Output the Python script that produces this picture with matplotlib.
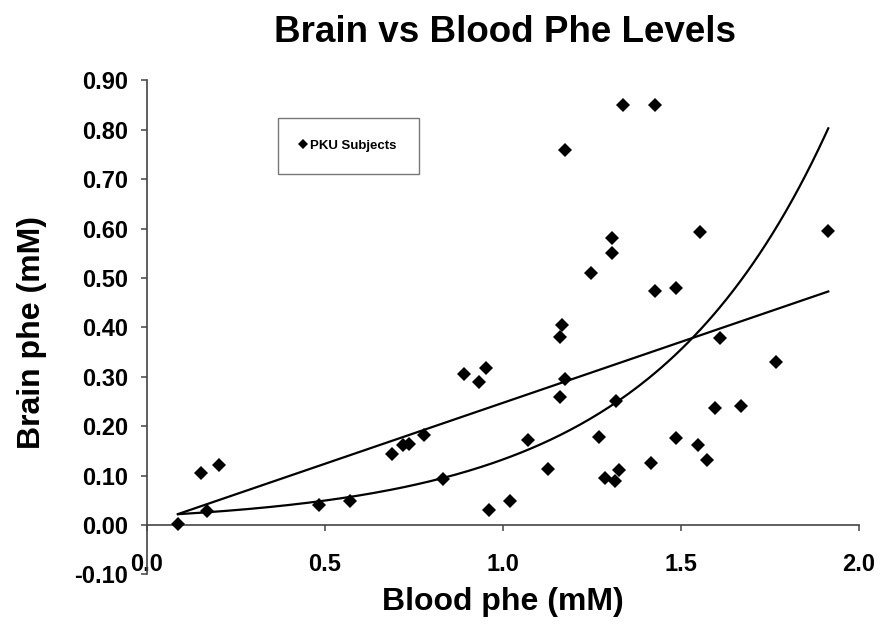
"""
Brain vs blood phe scatter with linear and exponential trendlines
"""

import numpy as np
import matplotlib
matplotlib.use("Agg")
import matplotlib.pyplot as plt
from matplotlib.ticker import FormatStrFormatter


# ---------- Data ----------
blood_phe = [0.087, 0.151, 0.201, 0.169, 0.483, 0.569,
             1.166, 1.159, 0.892, 0.953, 0.932, 1.173, 1.159,
             0.688, 0.719, 0.735, 0.778, 1.070, 1.126, 0.831, 0.961, 1.019,
             1.610, 1.768, 1.318, 1.597, 1.669, 1.270, 1.487, 1.548, 1.573,
             1.415, 1.325, 1.287, 1.314,
             1.337, 1.428, 1.555, 1.306, 1.306, 1.248, 1.428, 1.487,
             1.173, 1.914]
brain_phe = [0.003, 0.105, 0.122, 0.029, 0.040, 0.049,
             0.404, 0.381, 0.306, 0.318, 0.290, 0.296, 0.260,
             0.143, 0.161, 0.165, 0.182, 0.173, 0.113, 0.093, 0.030, 0.048,
             0.378, 0.329, 0.252, 0.236, 0.241, 0.179, 0.177, 0.161, 0.132,
             0.126, 0.111, 0.095, 0.089,
             0.850, 0.850, 0.593, 0.580, 0.550, 0.510, 0.474, 0.479,
             0.759, 0.595]

# exponential trendline y = a * exp(b * x), as drawn on the chart
exp_trend_a = 0.0185
exp_trend_b = 1.97

x_ticks = [0.0, 0.5, 1.0, 1.5, 2.0]
y_ticks = [-0.10, 0.00, 0.10, 0.20, 0.30, 0.40, 0.50, 0.60, 0.70, 0.80, 0.90]

FONT = "Liberation Sans"
plt.rcParams["font.family"] = [FONT, "DejaVu Sans"]

x = np.asarray(blood_phe)
y = np.asarray(brain_phe)

# linear trendline from a least-squares fit of the points
lin = np.polyfit(x, y, 1)
xs = np.linspace(x.min(), x.max(), 200)

fig = plt.figure(figsize=(8.8, 6.28), dpi=100)
ax = fig.add_axes([0.167, 0.0853, 0.809, 0.7867])

ax.plot(xs, np.polyval(lin, xs), color="black", lw=1.6, zorder=2)
ax.plot(xs, exp_trend_a * np.exp(exp_trend_b * xs), color="black", lw=1.6, zorder=2)
ax.plot(x, y, linestyle="none", marker="D", markersize=6.8, color="black",
        markeredgewidth=0, label="PKU Subjects", zorder=3)

ax.set_xlim(0, 2.0)
ax.set_ylim(-0.10, 0.90)
ax.set_xticks(x_ticks)
ax.set_yticks(y_ticks)
ax.xaxis.set_major_formatter(FormatStrFormatter("%.1f"))
ax.yaxis.set_major_formatter(FormatStrFormatter("%.2f"))

for side in ("top", "right"):
    ax.spines[side].set_visible(False)
ax.spines["bottom"].set_position(("data", 0))
for side in ("left", "bottom"):
    ax.spines[side].set_color("#444444")
    ax.spines[side].set_linewidth(1.2)

ax.tick_params(axis="both", direction="out", length=4.5, width=1.1,
               color="#444444", labelsize=17)
ax.tick_params(axis="x", pad=16)
ax.tick_params(axis="y", pad=9)
for lab in ax.get_xticklabels() + ax.get_yticklabels():
    lab.set_fontweight("bold")

ax.set_xlabel("Blood phe (mM)", fontsize=23, fontweight="bold")
ax.set_ylabel("Brain phe (mM)", fontsize=23, fontweight="bold")
ax.xaxis.set_label_coords(0.5, -0.026)
ax.yaxis.set_label_coords(-0.14, 0.49)

fig.text(0.574, 0.933, "Brain vs Blood Phe Levels", ha="center", va="baseline",
         fontsize=26.5, fontweight="bold")

leg = ax.legend(loc="upper left", bbox_to_anchor=(0.316, 0.812),
                bbox_transform=fig.transFigure, borderaxespad=0,
                prop={"size": 9.5, "weight": "bold"}, handlelength=0.5,
                handletextpad=0.3, borderpad=1.65, fancybox=False,
                frameon=True, markerscale=0.75)
leg.get_frame().set_edgecolor("#555555")
leg.get_frame().set_linewidth(1.0)

fig.savefig("out.png", dpi=100)
